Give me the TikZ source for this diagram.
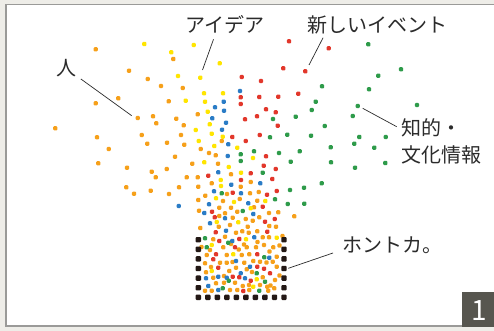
\documentclass[tikz,border=0pt]{standalone}
\usepackage{fontspec}
\newfontfamily\jpfont{Noto Sans CJK JP}
\usetikzlibrary{positioning}
\definecolor{bgout}{HTML}{EEEDE8}
\definecolor{frameline}{HTML}{9A9A98}
\definecolor{numbox}{HTML}{57564F}
\definecolor{ink}{HTML}{2B2B2B}
\definecolor{dotorange}{HTML}{F6A01A}
\definecolor{dotyellow}{HTML}{FFE500}
\definecolor{dotblue}{HTML}{2A7CC6}
\definecolor{dotred}{HTML}{E2372B}
\definecolor{dotgreen}{HTML}{2E9B4A}
\definecolor{dotblack}{HTML}{231815}
\tikzset{
  label text/.style={font=\jpfont\fontsize{20}{27}\selectfont, text=ink, inner sep=0pt},
  leader/.style={draw=ink, line width=0.7pt},
  speck/.style={rounded corners=1pt},
}
\begin{document}
\begin{tikzpicture}[x=1pt,y=-1pt]
\useasboundingbox (0,0) rectangle (494,331);
\fill[bgout] (0,0) rectangle (494,331);
\fill[white] (6,4.5) rectangle (494,326);
\draw[frameline, line width=1.6pt] (494,4.5) -- (6,4.5) -- (6,326) -- (494,326);
\fill[numbox] (462,292) rectangle (494,327);
\node[font=\jpfont\fontsize{28}{28}\selectfont, text=white, inner sep=0pt] (num) at (479,310.5) {1};

\foreach \x/\y in {95.7/49.3, 129/70.7, 147.7/79, 161/86, 118.3/98.3, 95.7/103.3, 182.7/88, 173.3/59, 168.7/101.3, 137.7/118, 153/116.3, 156.3/123.3, 176.3/118.7, 183.7/125.3, 55.3/128.3, 97/137.3, 141.7/135, 147.3/143.7, 167/142.7, 181/135, 184.3/144.7, 108.7/149, 98.3/163.3, 127/167.7, 166.7/169, 175/156.7, 192.3/163.7, 200.7/149, 209/153, 218/163.7, 197.7/114.3, 221.7/141, 215.7/155.3, 126.3/187.3, 134/193.7, 150.7/190.7, 151.7/171.7, 155.7/177.3, 186.7/177.3, 197.7/177.3, 231/174.3, 250.7/182, 198.3/186.7, 211.7/183.3, 240.7/186.7, 179/187.3, 227/194, 250/193.3, 258.7/192, 169/194, 205.3/195.7, 223/201, 239.7/199, 257.3/200.7, 198.3/200, 199/210.7, 219.3/207.7, 231/207.7, 237.3/211.7, 254/207.3, 225/213.3, 269/213, 278.3/212.3, 219.3/216, 232.7/217.7, 245.7/219, 259.3/217.3, 294.3/216.3, 218.7/226.7, 230/225, 247.7/226.7, 252.7/220.7, 269.3/226, 276/226.7, 200.3/228, 236/232.7, 242.3/231.3, 248.7/232.7, 257.3/231.3, 213.3/239.3, 225/236.7, 262.7/237.3, 269/237.3, 223.3/247.3, 246.7/247.3, 256/247.3, 264/245, 273.3/247.3, 210/250, 206.7/255, 226.7/255, 241.7/255, 249.3/254.3, 276.7/256.7, 220/262.7, 226.7/262.7, 244.3/262.7, 253.3/261, 260/261.7, 272.7/261.7, 205/263.3, 229.3/271, 236/267.7, 246.7/269.3, 276.7/266.7, 206/272.3, 213.3/277.7, 275/280, 262.7/277.3, 216/283.3, 224/282.7, 235/282.7, 242.7/286, 249/285, 260/285, 267.3/286.7, 274.3/288.3, 205/290.7, 211.7/290.7, 230/290, 237.3/290, 249.3/290, 268.3/290.7, 238.7/249.5, 252/272, 266.5/262.5, 279.5/275.5, 211/267, 232.5/262, 244/244.5, 269.5/251.5, 224/276, 279.5/245.5, 201.5/247, 282.5/236, 257.5/242, 270.5/285.5, 231/244}
  \fill[speck,dotorange] (\x-2.1,\y-2.1) rectangle (\x+2.1,\y+2.1);

\foreach \x/\y in {144.3/44, 171.3/52.3, 193.7/45, 219.7/63.3, 178/76, 200.3/77.7, 204/93.3, 223/93.3, 185.7/100.7, 205/101.7, 207.7/111.7, 209.7/124.3, 195.7/130, 211.7/133.7, 198.7/141, 214.3/146, 222.7/136.7, 237.3/147.7, 204.3/162.3, 228.7/167, 253/158, 241/172.7, 220.7/180, 221/186, 216/198.3, 234/202, 265.3/201, 250.7/208.3, 216.7/222, 238.3/222.3, 246/239.3, 276.7/237.7, 211.7/245, 233.3/254.3, 211.7/271, 256.7/279.3, 253.3/286.7}
  \fill[speck,dotyellow] (\x-2.1,\y-2.1) rectangle (\x+2.1,\y+2.1);

\foreach \x/\y in {240/91, 223.7/101.7, 215/107.3, 224/110.7, 212.3/118.3, 226/122.7, 222/129.7, 228.3/144.3, 227.7/156, 218.3/172.3, 260.3/183.3, 231.3/184.7, 214/191.3, 241/193.3, 209/204.3, 248.3/203.3, 178.7/206, 204.3/213, 253.3/214, 225/218.3, 210/223.3, 226/230.7, 232.3/241, 254.3/237.3, 269.3/257.7, 236/261, 240.7/273.3, 250/266.7, 206/278.3, 218.3/276.7, 226.7/277.7, 245/278.3, 208.3/286, 218.3/290}
  \fill[speck,dotblue] (\x-2.1,\y-2.1) rectangle (\x+2.1,\y+2.1);

\foreach \x/\y in {241.7/77, 240.7/97.3, 240.7/104, 245/119.3, 232.3/137, 245.7/141, 289/41.3, 328.7/48.3, 283.3/68.3, 305.3/71.3, 261/81, 298.3/93.7, 278.3/96.7, 259.3/97, 266/109.3, 275.7/112.3, 257/116.3, 277.7/125.7, 259.7/135, 266/156.3, 263.7/165.7, 275.7/169, 208.3/175.7, 250.7/173.3, 272.3/179, 241/180, 232.7/192.7, 267/194.7, 276.7/191, 262.7/206.7, 212/211.7, 214.7/217.3, 274.7/219, 265/221.7, 215.7/232.3, 267.3/231.7, 219.3/241, 239.3/239, 235/247.3, 216/254.3, 257.3/254.3, 213.3/259.3, 218.3/267.7, 257.3/266.7, 264/268.7, 270/273.3, 232.7/276.7, 239.3/277.3, 250.7/280.7, 243.3/291}
  \fill[speck,dotred] (\x-2.1,\y-2.1) rectangle (\x+2.1,\y+2.1);

\foreach \x/\y in {240.7/154.3, 240.7/161, 368.3/44.3, 401/69.3, 378.3/75.7, 322/86.3, 369/89.3, 315.7/101.7, 417/105, 311.7/110, 357.7/106, 273/119, 295.7/116.7, 352.7/116, 324.7/126, 287.3/134.7, 270/137.3, 311/135.7, 359.3/137, 385.7/137, 354.3/143.7, 330.7/147.3, 374.3/147.7, 254/151.3, 299.7/151.3, 279/153, 290.7/161.7, 331/162.3, 385.3/163, 355/167.7, 262.7/172.7, 221.7/193.3, 275/199.3, 290/190, 304/187.7, 321.7/183.3, 287.7/204, 304.3/203.7, 242.7/211, 205/238.3, 228.3/242.7, 206.7/247.3, 264.3/257.3, 256.7/273.3, 265/281.7, 228.7/280.7, 222.7/288.3, 259.3/290.7}
  \fill[speck,dotgreen] (\x-2.1,\y-2.1) rectangle (\x+2.1,\y+2.1);

\foreach \i in {0,...,9}
  \fill[speck,dotblack] (198.3+9.52*\i-2.7,297.3-2.7) rectangle ++(5.4,5.4);
\foreach \j in {0,...,5} {
  \fill[speck,dotblack] (198.3-2.7,239.7+9.6*\j-2.7) rectangle ++(5.4,5.4);
  \fill[speck,dotblack] (284-2.7,239.7+9.6*\j-2.7) rectangle ++(5.4,5.4);
}

\node[label text] (hito) at (66,68) {人};
\node[label text] (idea) at (225,25) {アイデア};
\node[label text] (event) at (377,25) {新しいイベント};
\node[label text, align=left, anchor=north west] (chiteki) at (401,118) {知的・\\文化情報};
\node[label text, anchor=west] (honto) at (342,245) {ホントカ。};

\coordinate (hitopt) at (131.7,115.7);
\coordinate (ideapt) at (202.5,70);
\coordinate (eventpt) at (309,65);
\coordinate (chitekipt) at (362.7,108.3);
\coordinate (hontopt) at (288.3,268.3);

\draw[leader] ([shift={(4.7,2)}]hito.south east) -- (hitopt);
\draw[leader] ([shift={(-11.5,5)}]idea.south) -- (ideapt);
\draw[leader] ([shift={(16.3,3.3)}]event.south west) -- (eventpt);
\draw[leader] ([shift={(-4.3,8.7)}]chiteki.north west) -- (chitekipt);
\draw[leader] ([shift={(-9,8)}]honto.west) -- (hontopt);
\end{tikzpicture}
\end{document}
